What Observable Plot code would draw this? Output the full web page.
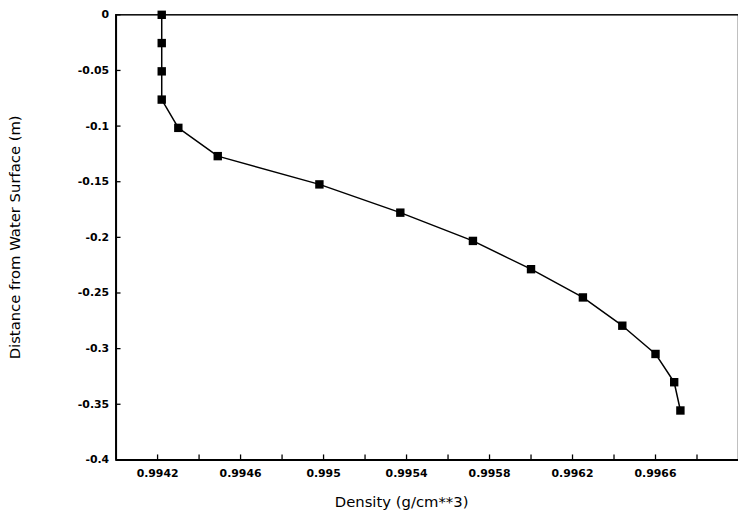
<!DOCTYPE html>
<html>
<head>
<meta charset="utf-8">
<script src="https://cdn.jsdelivr.net/npm/d3@7"></script>
<script src="https://cdn.jsdelivr.net/npm/@observablehq/plot@0.6"></script>
<style>
  html, body { margin: 0; padding: 0; background: #fff; }
  #chart { width: 738px; height: 520px; overflow: hidden; }
</style>
</head>
<body>
<div id="chart"></div>
<script>
// Water density profile: one reading per inch of depth below the surface
const depth = [0, -0.0254, -0.0508, -0.0762, -0.1016, -0.127, -0.1524, -0.1778,
               -0.2032, -0.2286, -0.254, -0.2794, -0.3048, -0.3302, -0.3556];
const density = [0.99422, 0.99422, 0.99422, 0.99422, 0.9943, 0.99449, 0.99498, 0.99537,
                 0.99572, 0.99600, 0.99625, 0.99644, 0.99660, 0.99669, 0.99672];

const xMinorTicks = [0.9942, 0.9944, 0.9946, 0.9948, 0.995, 0.9952, 0.9954,
                     0.9956, 0.9958, 0.996, 0.9962, 0.9964, 0.9966, 0.9968];
const xTickLabels = [0.9942, 0.9946, 0.995, 0.9954, 0.9958, 0.9962, 0.9966];
const yTicks = [0, -0.05, -0.1, -0.15, -0.2, -0.25, -0.3, -0.35, -0.4];

const xTitle = "Density (g/cm**3)";
const yTitle = "Distance from Water Surface (m)";

const profile = depth.map((d, i) => ({depth: d, density: density[i]}));

const tickFont = {fontFamily: "DejaVu Sans", fontSize: 11, fontWeight: "bold"};

const chart = Plot.plot({
  width: 747,
  height: 520,
  marginLeft: 117,
  marginRight: 0,
  marginTop: 14.5,
  marginBottom: 55,
  style: {fontFamily: "DejaVu Sans", color: "#000", background: "#fff"},
  x: {domain: [0.994, 0.997], label: null},
  y: {domain: [-0.4, 0], label: null},
  marks: [
    Plot.frame({stroke: "#000", strokeWidth: 1.5}),
    Plot.ruleX([0.994], {stroke: "#000", strokeWidth: 2}),
    Plot.ruleY([-0.4], {stroke: "#000", strokeWidth: 2}),
    // inward tick marks
    Plot.axisX(xMinorTicks, {tickSize: 5, dy: -5, tickFormat: () => "", label: null, strokeWidth: 1.3}),
    Plot.axisY(yTicks, {tickSize: 5, dx: 5, tickFormat: () => "", label: null, strokeWidth: 1.3}),
    // tick labels
    Plot.axisX(xTickLabels, {tickSize: 0, tickPadding: 10, tickFormat: d => String(d), label: null, ...tickFont}),
    Plot.axisY(yTicks, {tickSize: 0, tickPadding: 7, tickFormat: d => String(d), label: null, ...tickFont}),
    // axis titles
    Plot.text([xTitle], {frameAnchor: "bottom", dy: 43, dx: -26, text: d => d, textAnchor: "middle",
                         fontSize: 15, fontFamily: "DejaVu Sans", lineAnchor: "middle"}),
    Plot.text([yTitle], {frameAnchor: "left", dx: -102, rotate: -90, text: d => d, textAnchor: "middle",
                         fontSize: 15, fontFamily: "DejaVu Sans", lineAnchor: "middle"}),
    // the profile
    Plot.line(profile, {x: "density", y: "depth", stroke: "#000", strokeWidth: 1.5}),
    Plot.dot(profile, {x: "density", y: "depth", symbol: "square", r: 4.8, fill: "#000", stroke: "none"})
  ]
});

document.getElementById("chart").appendChild(chart);
</script>
</body>
</html>
